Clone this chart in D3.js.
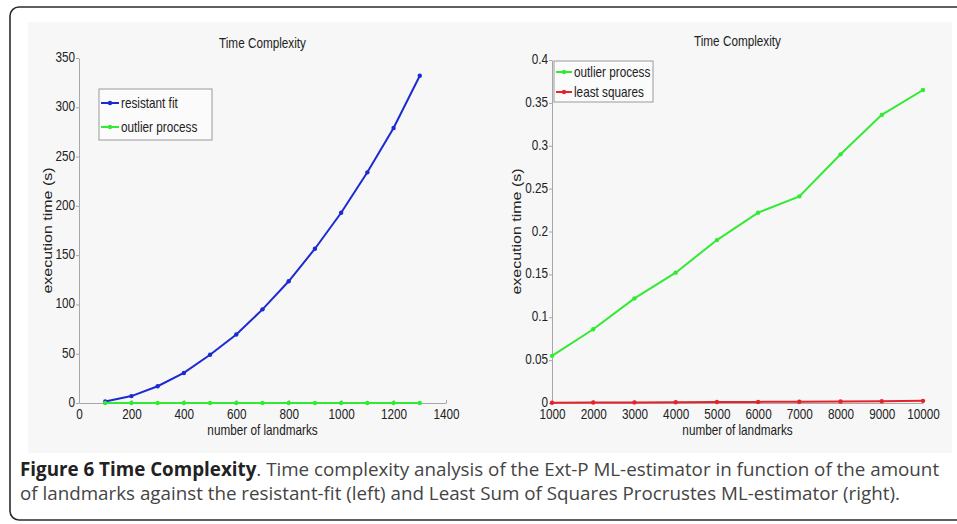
<!DOCTYPE html>
<html>
<head>
<meta charset="utf-8">
<script src="https://cdn.jsdelivr.net/npm/d3@7"></script>
<style>
  body { margin: 0; background: #fff; }
  svg { display: block; }
  .axis path, .axis line { stroke: #a8a8a8; }
  .axis text { font-family: "Liberation Sans", Arial, sans-serif; font-size: 14px; fill: #222; }
  .plotText { font-family: "Liberation Sans", Arial, sans-serif; fill: #222; }
  .caption { font-family: "Open Sans", sans-serif; font-size: 18.8px; fill: #444; }
</style>
</head>
<body>
<div class="figure"></div>
<script>
'use strict'

// Data.
const leftLandmarks = [100, 200, 300, 400, 500, 600, 700, 800, 900, 1000, 1100, 1200, 1300];
const resistantFit = [1.5, 7, 17, 30.5, 49, 69.5, 95, 123.5, 156.5, 193, 234, 279, 332];
const outlierLeft = [0.004, 0.006, 0.009, 0.012, 0.015, 0.018, 0.021, 0.024, 0.027, 0.03, 0.033, 0.036, 0.04];

const rightLandmarks = [1000, 2000, 3000, 4000, 5000, 6000, 7000, 8000, 9000, 10000];
const outlierRight = [0.055, 0.086, 0.122, 0.152, 0.19, 0.222, 0.241, 0.29, 0.336, 0.365];
const leastSquares = [0.0003, 0.0005, 0.0007, 0.0009, 0.0011, 0.0013, 0.0015, 0.0018, 0.0021, 0.0025];

const leftXTicks = [0, 200, 400, 600, 800, 1000, 1200, 1400];
const leftYTicks = [0, 50, 100, 150, 200, 250, 300, 350];
const rightXTicks = [1000, 2000, 3000, 4000, 5000, 6000, 7000, 8000, 9000, 10000];
const rightYTicks = [0, 0.05, 0.1, 0.15, 0.2, 0.25, 0.3, 0.35, 0.4];

const blue = '#1c2ad2',
    green = '#33ea33',
    red = '#e4232a';

// The figure was squashed sideways, so text is narrowed too.
const SX = 0.84;

const width = 957,
    height = 524;

const svg = d3.select('.figure')
    .append('svg')
    .attr('width', width)
    .attr('height', height);

// Frame and plot background.
svg.append('rect')
    .attr('x', 10).attr('y', 7)
    .attr('width', 990).attr('height', 513)
    .attr('rx', 9)
    .attr('fill', '#fff')
    .attr('stroke', '#2b2b2b')
    .attr('stroke-width', 1.6);

svg.append('rect')
    .attr('x', 28).attr('y', 22)
    .attr('width', 924).attr('height', 431)
    .attr('fill', '#f7f7f7');

function squeeze(sel) {
    sel.each(function() {
        const t = d3.select(this);
        const x = +t.attr('x') || 0;
        t.attr('transform', `translate(${x},0) scale(${SX},1) translate(${-x},0)`);
    });
}

function label(g, x, y, txt, size, anchor) {
    return g.append('text')
        .attr('class', 'plotText')
        .attr('x', x)
        .attr('y', y)
        .style('font-size', size + 'px')
        .style('text-anchor', anchor || 'middle')
        .text(txt)
        .call(squeeze);
}

function panel(opts) {
    const g = svg.append('g');

    const x = d3.scaleLinear().domain(opts.xDomain).range(opts.xRange);
    const y = d3.scaleLinear().domain(opts.yDomain).range(opts.yRange);

    const xAxis = d3.axisBottom(x)
        .tickValues(opts.xTicks)
        .tickSizeInner(-3)
        .tickSizeOuter(0)
        .tickPadding(6)
        .tickFormat(d => String(d));

    const yAxis = d3.axisLeft(y)
        .tickValues(opts.yTicks)
        .tickSizeInner(3)
        .tickSizeOuter(0)
        .tickPadding(1)
        .tickFormat(d => String(+d.toFixed(2)));

    g.append('g')
        .attr('class', 'axis')
        .attr('transform', `translate(0, ${y.range()[0]})`)
        .call(xAxis)
        .call(a => a.select('.domain').attr('stroke', '#a8a8a8'))
        .selectAll('text').call(squeeze);

    g.append('g')
        .attr('class', 'axis')
        .attr('transform', `translate(${x.range()[0]}, 0)`)
        .call(yAxis)
        .call(a => a.select('.domain').attr('stroke', '#a8a8a8'))
        .selectAll('text')
            .attr('dy', '0.25em')
            .call(squeeze);

    const xMid = (x.range()[0] + x.range()[1]) / 2;
    const yMid = (y.range()[0] + y.range()[1]) / 2;

    label(g, xMid, opts.titleY, 'Time Complexity', 14);
    label(g, xMid, 435, 'number of landmarks', 14);

    g.append('text')
        .attr('class', 'plotText')
        .attr('transform', `translate(${opts.yLabelX}, ${yMid}) scale(${SX},1) rotate(-90)`)
        .attr('dy', '0.35em')
        .style('font-size', '16px')
        .style('text-anchor', 'middle')
        .text('execution time (s)');

    const line = d3.line().x(d => x(d[0])).y(d => y(d[1]));

    opts.series.forEach(s => {
        const pts = s.xs.map((v, i) => [v, s.ys[i]]);
        g.append('path')
            .datum(pts)
            .attr('fill', 'none')
            .attr('stroke', s.color)
            .attr('stroke-width', 2)
            .attr('d', line);
        g.selectAll(null)
            .data(pts)
            .join('circle')
            .attr('cx', d => x(d[0]))
            .attr('cy', d => y(d[1]))
            .attr('r', 2.2)
            .attr('fill', s.color);
    });

    // Legend.
    const lg = opts.legend;
    g.append('rect')
        .attr('x', lg.x).attr('y', lg.y)
        .attr('width', lg.w).attr('height', lg.h)
        .attr('fill', '#fbfbfb')
        .attr('stroke', '#9a9a9a');

    opts.series.forEach((s, i) => {
        const cy = lg.y + lg.first + i * lg.step;
        g.append('line')
            .attr('x1', lg.x + 2).attr('x2', lg.x + 2 + lg.sample)
            .attr('y1', cy).attr('y2', cy)
            .attr('stroke', s.color)
            .attr('stroke-width', 2);
        g.append('circle')
            .attr('cx', lg.x + 2 + lg.sample / 2)
            .attr('cy', cy)
            .attr('r', 2.2)
            .attr('fill', s.color);
        label(g, lg.x + 4 + lg.sample, cy, s.name, 14, 'start')
            .attr('dy', '0.35em');
    });
}

panel({
    xDomain: [0, 1400], xRange: [79, 446],
    yDomain: [0, 350], yRange: [403, 58],
    xTicks: leftXTicks, yTicks: leftYTicks,
    titleY: 48, yLabelX: 47,
    series: [
        {name: 'resistant fit', xs: leftLandmarks, ys: resistantFit, color: blue},
        {name: 'outlier process', xs: leftLandmarks, ys: outlierLeft, color: green}
    ],
    legend: {x: 99, y: 89, w: 113, h: 51, first: 14, step: 24, sample: 18}
});

panel({
    xDomain: [1000, 10000], xRange: [552, 923],
    yDomain: [0, 0.4], yRange: [403, 60],
    xTicks: rightXTicks, yTicks: rightYTicks,
    titleY: 46, yLabelX: 516,
    series: [
        {name: 'outlier process', xs: rightLandmarks, ys: outlierRight, color: green},
        {name: 'least squares', xs: rightLandmarks, ys: leastSquares, color: red}
    ],
    legend: {x: 554, y: 61, w: 99, h: 41, first: 11, step: 20, sample: 16}
});

// Caption.
const cap1 = svg.append('text')
    .attr('class', 'caption')
    .attr('x', 20)
    .attr('y', 476);
cap1.append('tspan')
    .style('font-weight', 'bold')
    .style('fill', '#222')
    .text('Figure 6 Time Complexity');
cap1.append('tspan')
    .text('. Time complexity analysis of the Ext-P ML-estimator in function of the amount');

svg.append('text')
    .attr('class', 'caption')
    .attr('x', 20)
    .attr('y', 500)
    .text('of landmarks against the resistant-fit (left) and Least Sum of Squares Procrustes ML-estimator (right).');
</script>
</body>
</html>
